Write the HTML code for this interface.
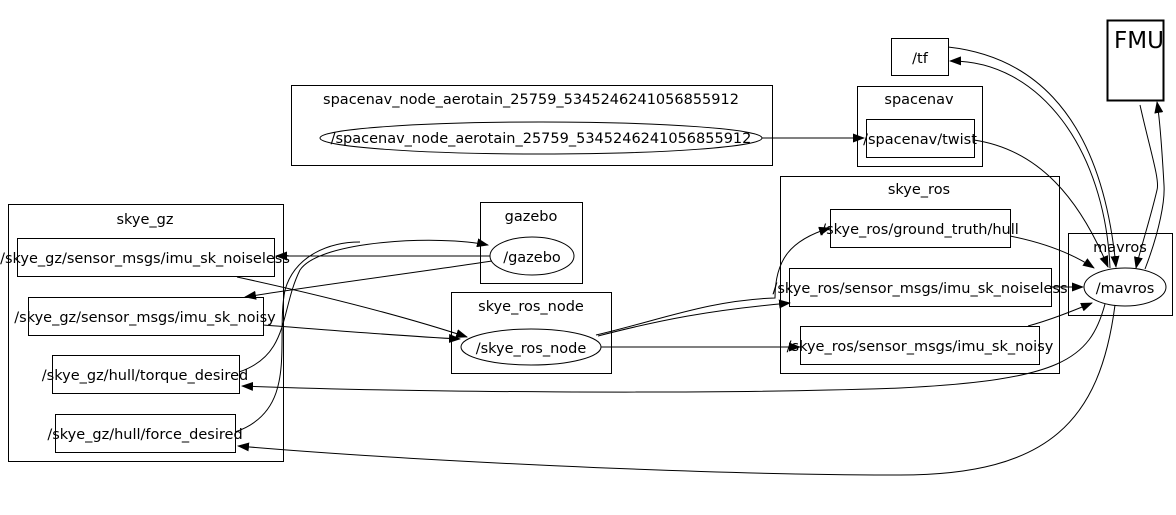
<!DOCTYPE html>
<html><head><meta charset="utf-8"><style>
html,body{margin:0;padding:0;background:#fff;width:1176px;height:515px;overflow:hidden}
svg text{font-family:"DejaVu Sans","Liberation Sans",sans-serif;font-size:14.5px;fill:#000}
</style></head><body>
<svg width="1176" height="515" viewBox="0 0 1176 515" xmlns="http://www.w3.org/2000/svg">
<defs><marker id="a" markerWidth="12" markerHeight="9" refX="11" refY="4.5" orient="auto" markerUnits="userSpaceOnUse"><path d="M0,0 L12,4.5 L0,9 z" fill="#000"/></marker></defs>
<g fill="none" stroke="#000" stroke-width="1">
<rect x="291.5" y="85.5" width="481" height="80"/>
<rect x="857.5" y="86.5" width="125" height="80"/>
<rect x="780.5" y="176.5" width="279" height="197"/>
<rect x="1068.5" y="233.5" width="104" height="82"/>
<rect x="8.5" y="204.5" width="275" height="257"/>
<rect x="480.5" y="202.5" width="102" height="81"/>
<rect x="451.5" y="292.5" width="160" height="81"/>
<rect x="891.5" y="38.5" width="57" height="37"/>
<rect x="1107.5" y="20.5" width="56" height="80" stroke-width="2"/>
<rect x="866.5" y="119.5" width="108" height="38"/>
<rect x="830.5" y="209.5" width="180" height="38"/>
<rect x="789.5" y="268.5" width="262" height="38"/>
<rect x="800.5" y="326.5" width="239" height="38"/>
<rect x="17.5" y="238.5" width="257" height="38"/>
<rect x="28.5" y="297.5" width="235" height="38"/>
<rect x="52.5" y="355.5" width="187" height="38"/>
<rect x="55.5" y="414.5" width="180" height="38"/>
<ellipse cx="541" cy="138" rx="221" ry="16"/>
<ellipse cx="1125" cy="287" rx="41" ry="19"/>
<ellipse cx="532" cy="256" rx="42" ry="19"/>
<ellipse cx="531" cy="347" rx="70" ry="18"/>
<path d="M762,138 L864,138" marker-end="url(#a)"/>
<path d="M974,140 C1040,150 1080,200 1108,267" marker-end="url(#a)"/>
<path d="M948,47 C1020,55 1100,100 1116,267" marker-end="url(#a)"/>
<path d="M1110,268 C1105,150 1040,60 950,61" marker-end="url(#a)"/>
<path d="M1140,105 C1150,150 1160,180 1157,190 C1150,220 1140,250 1136,268" marker-end="url(#a)"/>
<path d="M1145,269 C1160,230 1165,200 1164,185 C1162,150 1160,120 1157,102" marker-end="url(#a)"/>
<path d="M1010,236 C1040,242 1070,252 1094,268" marker-end="url(#a)"/>
<path d="M1051,287 L1083,287" marker-end="url(#a)"/>
<path d="M1028,326 C1050,320 1070,312 1092,303" marker-end="url(#a)"/>
<path d="M1105,304 C1090,360 1060,380 900,388 C700,395 400,392 242,386" marker-end="url(#a)"/>
<path d="M1115,305 C1100,420 1050,475 900,475 C700,475 400,460 238,446" marker-end="url(#a)"/>
<path d="M490,256 L276,256" marker-end="url(#a)"/>
<path d="M492,261 C420,272 320,285 245,297" marker-end="url(#a)"/>
<path d="M239,372 C290,355 280,310 300,270 C320,240 440,235 488,245" marker-end="url(#a)"/>
<path d="M235,432 C300,410 275,340 285,290 C295,255 330,242 360,242"/>
<path d="M237,277 C320,295 400,315 467,337" marker-end="url(#a)"/>
<path d="M263,325 C330,330 400,336 460,339" marker-end="url(#a)"/>
<path d="M596,335 C660,320 710,300 775,298 C775,260 790,240 830,228" marker-end="url(#a)"/>
<path d="M598,336 C660,320 710,310 790,303" marker-end="url(#a)"/>
<path d="M601,347 L800,347" marker-end="url(#a)"/>
</g>
<text x="1114" y="48" style="font-size:23px">FMU</text>
<g text-anchor="middle">
<text x="531" y="104">spacenav_node_aerotain_25759_5345246241056855912</text>
<text x="541" y="143">/spacenav_node_aerotain_25759_5345246241056855912</text>
<text x="920" y="63">/tf</text>
<text x="919" y="104">spacenav</text>
<text x="920" y="144">/spacenav/twist</text>
<text x="919" y="194">skye_ros</text>
<text x="920" y="234">/skye_ros/ground_truth/hull</text>
<text x="920" y="293">/skye_ros/sensor_msgs/imu_sk_noiseless</text>
<text x="920" y="351">/skye_ros/sensor_msgs/imu_sk_noisy</text>
<text x="1120" y="252">mavros</text>
<text x="1125" y="293">/mavros</text>
<text x="145" y="224">skye_gz</text>
<text x="145" y="263">/skye_gz/sensor_msgs/imu_sk_noiseless</text>
<text x="145" y="322">/skye_gz/sensor_msgs/imu_sk_noisy</text>
<text x="145" y="380">/skye_gz/hull/torque_desired</text>
<text x="145" y="439">/skye_gz/hull/force_desired</text>
<text x="531" y="221">gazebo</text>
<text x="532" y="262">/gazebo</text>
<text x="531" y="311">skye_ros_node</text>
<text x="531" y="353">/skye_ros_node</text>
</g>
</svg>
</body></html>
